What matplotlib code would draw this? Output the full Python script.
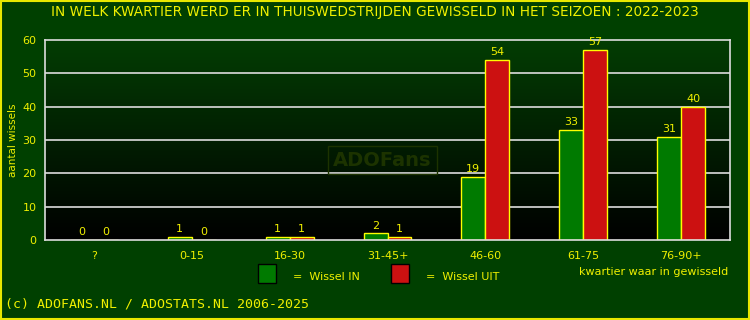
import numpy as np
import matplotlib
matplotlib.use("Agg")
import matplotlib.pyplot as plt
from matplotlib.patches import Rectangle

# -- Data -------------------------------------------------------
categories = ["?", "0-15", "16-30", "31-45+", "46-60", "61-75", "76-90+"]
wissel_in  = [0, 1, 1, 2, 19, 33, 31]
wissel_uit = [0, 0, 1, 1, 54, 57, 40]
yticks     = [0, 10, 20, 30, 40, 50, 60]

YEL   = "#f0f000"
GREEN = "#007a00"
RED   = "#cc1111"
BG    = "#004000"

fig = plt.figure(figsize=(7.5, 3.2), dpi=100, facecolor=BG)
fig.patches.append(Rectangle((0.0015, 0.003), 0.997, 0.994, transform=fig.transFigure,
                             fill=False, edgecolor="#e8e800", linewidth=1.5))

ax = fig.add_axes([45/750, 1-240/320, 685/750, 200/320])
ax.set_xlim(-0.5, len(categories)-0.5)
ax.set_ylim(0, 60)

# gradient background (dark green top -> black bottom)
cmap = matplotlib.colors.LinearSegmentedColormap.from_list("g", ["#000000", "#033d03"])
ax.imshow(np.linspace(0, 1, 256).reshape(-1, 1), extent=(-0.5, len(categories)-0.5, 0, 60),
          aspect="auto", cmap=cmap, origin="lower", zorder=0)

for y in yticks[1:-1]:
    ax.axhline(y, color="#dddddd", linewidth=1.2, zorder=1)

# watermark
ax.text(2.95, 24, "ADOFans", color="#1c3300", fontsize=14, fontweight="bold",
        ha="center", va="center", zorder=1,
        bbox=dict(boxstyle="square,pad=0.25", fc="none", ec="#1c3300", lw=1))

x = np.arange(len(categories))
w = 0.245
ax.bar(x - w/2, wissel_in, w, color=GREEN, edgecolor="#ffff00", linewidth=1, zorder=2)
ax.bar(x + w/2, wissel_uit, w, color=RED, edgecolor="#ffff00", linewidth=1, zorder=2)
for xi, v in zip(x - w/2, wissel_in):
    ax.text(xi, v + 0.8, str(v), color=YEL, fontsize=8, ha="center", va="bottom")
for xi, v in zip(x + w/2, wissel_uit):
    ax.text(xi, v + 0.8, str(v), color=YEL, fontsize=8, ha="center", va="bottom")

for s in ax.spines.values():
    s.set_color("#dddddd"); s.set_linewidth(1.2)
ax.set_xticks(x)
ax.set_xticklabels(categories)
ax.set_yticks(yticks)
ax.tick_params(colors=YEL, labelsize=8, length=0, pad=8)
ax.tick_params(axis="y", pad=6)
fig.text(13/750, 1-140/320, "aantal wissels", color=YEL, fontsize=7.5,
         rotation=90, ha="center", va="center")

fig.text(0.5, 1-12/320, "IN WELK KWARTIER WERD ER IN THUISWEDSTRIJDEN GEWISSELD IN HET SEIZOEN : 2022-2023",
         color=YEL, fontsize=9.8, ha="center", va="center")

# legend
fig.patches.append(Rectangle((258/750, 1-283/320), 18/750, 19/320, transform=fig.transFigure,
                             fc=GREEN, ec="black", lw=1))
fig.patches.append(Rectangle((391/750, 1-283/320), 18/750, 19/320, transform=fig.transFigure,
                             fc=RED, ec="black", lw=1))
fig.text(293/750, 1-277/320, "=  Wissel IN", color=YEL, fontsize=8, va="center")
fig.text(426/750, 1-277/320, "=  Wissel UIT", color=YEL, fontsize=8, va="center")
fig.text(728/750, 1-272/320, "kwartier waar in gewisseld", color=YEL, fontsize=8,
         ha="right", va="center")

fig.text(5/750, 1-304/320, "(c) ADOFANS.NL / ADOSTATS.NL 2006-2025", color=YEL,
         fontsize=9.5, family="DejaVu Sans Mono", va="center")

plt.savefig("out.png", dpi=100, facecolor=BG)
